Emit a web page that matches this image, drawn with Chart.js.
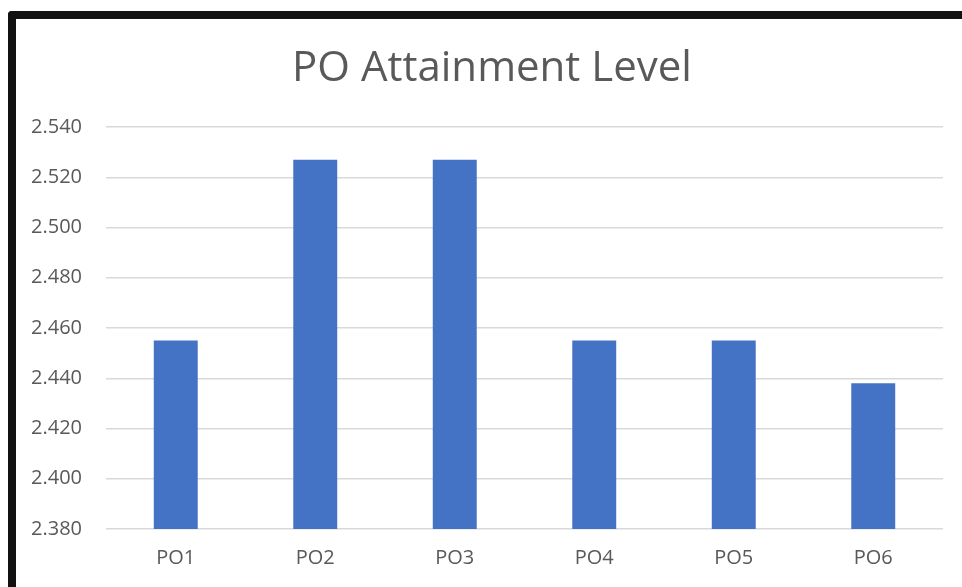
<!DOCTYPE html>
<html>
<head>
<meta charset="utf-8">
<script src="https://cdn.jsdelivr.net/npm/chart.js@4"></script>
<style>
  body { margin: 0; background: #fff; }
  #frame {
    position: absolute; left: 8px; top: 11px; width: 980px; height: 600px;
    border-top: 8px solid #111; border-left: 8px solid #111; border-top-left-radius: 4px;
  }
  #wrap { position: absolute; left: 0; top: 0; width: 962px; height: 587px; }
</style>
</head>
<body>
<div id="frame"></div>
<div id="wrap"><canvas id="po-chart"></canvas></div>
<script>
const categories = ['PO1', 'PO2', 'PO3', 'PO4', 'PO5', 'PO6'];
const attainment = [2.455, 2.527, 2.527, 2.455, 2.455, 2.438];
const yTicks = [2.380, 2.400, 2.420, 2.440, 2.460, 2.480, 2.500, 2.520, 2.540];
const chartTitle = 'PO Attainment Level';

let poChart = null;

// title is centred over the whole original frame, not just the canvas, so draw it by hand
const titlePlugin = {
    id: 'offsetTitle',
    afterDraw(chart) {
        const c = chart.ctx;
        c.save();
        c.font = '42px "Open Sans"';
        c.fillStyle = '#595959';
        c.textAlign = 'center';
        c.textBaseline = 'middle';
        c.fillText(chartTitle, 492, 68.7);
        c.restore();
    }
};

function createPoChart() {
    const ctx = document.getElementById('po-chart');
    if (!ctx) return;

    if (poChart) {
        poChart.destroy();
    }

    poChart = new Chart(ctx, {
        type: 'bar',
        data: {
        labels: categories,
        datasets: [{
            label: chartTitle,
            data: attainment,
            backgroundColor: '#4472C4',
            categoryPercentage: 1,
            barPercentage: 0.315
        }]
        },
        options: {
        responsive: true,
        maintainAspectRatio: false,
        animation: false,
        layout: {
            padding: { left: 0, right: 19, top: 127, bottom: 0 }
        },
        scales: {
            y: {
            min: yTicks[0],
            max: yTicks[yTicks.length - 1],
            afterFit: function(scale) { scale.width = 106; },
            afterBuildTicks: function(scale) {
                scale.ticks = yTicks.map(v => ({ value: v }));
            },
            border: { display: false },
            grid: { color: '#d9d9d9', lineWidth: 1.5, drawTicks: false },
            ticks: {
                padding: 24,
                color: '#595959',
                font: { family: 'Open Sans', size: 20 },
                callback: function(value) {
                return value.toFixed(3);
                }
            }
            },
            x: {
            afterFit: function(scale) { scale.height = 58; },
            border: { display: false },
            grid: { display: false, drawTicks: false },
            ticks: {
                padding: 17,
                color: '#595959',
                font: { family: 'Open Sans', size: 20 }
            }
            }
        },
        plugins: {
            legend: {
            display: false
            },
            tooltip: { enabled: false },
            title: {
            display: false
            }
        }
        },
        plugins: [titlePlugin]
    });
}

createPoChart();
</script>
</body>
</html>
